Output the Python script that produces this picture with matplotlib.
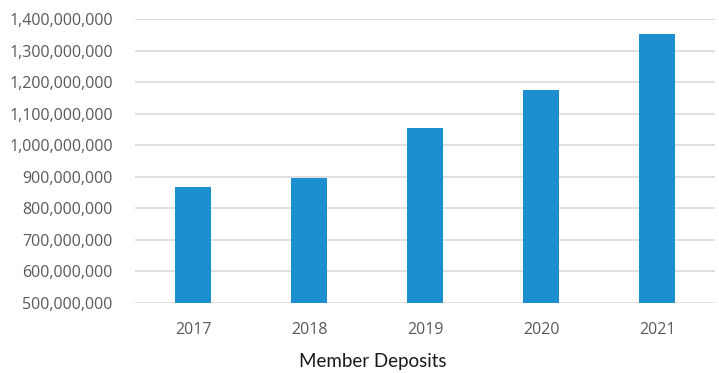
import numpy as np
from matplotlib import pyplot as plt
from matplotlib.ticker import FuncFormatter

years = ['2017', '2018', '2019', '2020', '2021']
deposits = [867000000, 896000000, 1056000000, 1176000000, 1353000000]
yticks = [500000000, 600000000, 700000000, 800000000, 900000000,
          1000000000, 1100000000, 1200000000, 1300000000, 1400000000]

fig = plt.figure(figsize=(7.19, 3.73), dpi=100)
ax = fig.add_axes([135/719, 1-303/373, 580/719, 284/373])

x = np.arange(len(years))
ax.bar(x, deposits, width=0.31, color='#1b8fcf', zorder=3)

ax.set_ylim(yticks[0], yticks[-1])
ax.set_xlim(-0.5, len(years)-0.5)
ax.set_yticks(yticks)
ax.yaxis.set_major_formatter(FuncFormatter(lambda v, p: '{:,.0f}'.format(v)))
ax.set_xticks(x)
ax.set_xticklabels(years)

ax.grid(axis='y', color='#d9d9d9', linewidth=1.2, zorder=0)
for s in ax.spines.values():
    s.set_visible(False)
ax.tick_params(length=0, labelsize=11.5, labelcolor='#595959')
ax.tick_params(axis='y', pad=16)
ax.tick_params(axis='x', pad=14)
for lab in ax.get_xticklabels() + ax.get_yticklabels():
    lab.set_family('Open Sans')

fig.text(373/719, 1-362/373, 'Member Deposits', ha='center', va='center',
         fontsize=13.5, color='#1a1a1a', family='Lato')

fig.savefig('out.png', dpi=100)
